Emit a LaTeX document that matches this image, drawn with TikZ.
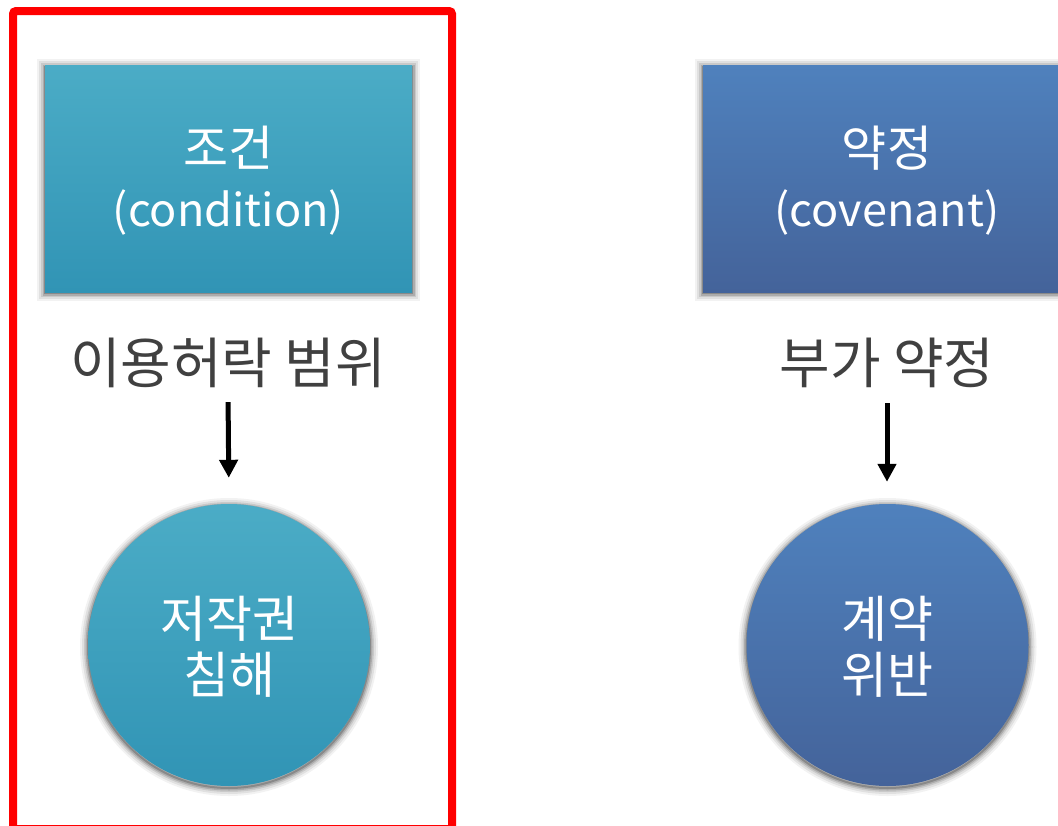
\documentclass[tikz,border=0pt]{standalone}
\usepackage{fontspec}
\newfontfamily\kr{Noto Sans CJK KR}
\usetikzlibrary{arrows.meta}
\newcommand{\bigko}[1]{{\fontsize{49}{60}\selectfont #1}}
\tikzset{
  tealfill/.style={top color=teal1, bottom color=teal2},
  bluefill/.style={top color=blue1, bottom color=blue2},
  boxtext/.style={font=\kr\fontsize{45}{60}\selectfont, text=white, align=center},
  circtext/.style={font=\kr\fontsize{50}{56}\selectfont, text=white, align=center},
  lbl/.style={font=\kr\fontsize{55}{60}\selectfont, text=labelgray, inner sep=0pt, minimum height=60pt},
  arr/.style={line width=5pt, -{Triangle[width=18pt,length=18pt]}},
  frame/.style={draw=red, line width=8pt, rounded corners=3pt}
}
\definecolor{teal1}{HTML}{4BACC6}
\definecolor{teal2}{HTML}{3194B5}
\definecolor{blue1}{HTML}{4F81BD}
\definecolor{blue2}{HTML}{44639A}
\definecolor{labelgray}{HTML}{404040}
\begin{document}
\begin{tikzpicture}[x=1pt,y=-1pt]
\useasboundingbox (0,0) rectangle (1058,825);
\clip (0,0) rectangle (1058,825);
\fill[white] (0,0) rectangle (1058,825);
% glows
\foreach \w/\o in {16/0.05,12/0.07,8/0.1,5/0.14,2/0.2}{
  \draw[black, opacity=\o, line width=\w pt] (45,67) rectangle (412,293);
  \draw[black, opacity=\o, line width=\w pt] (703,67) rectangle (1071,293);
  \draw[black, opacity=\o, line width=\w pt] (229,647) circle (141);
  \draw[black, opacity=\o, line width=\w pt] (887.5,647) circle (141);
}
% boxes
\node[tealfill, minimum width=367pt, minimum height=227pt, inner sep=0pt] (cond) at (228.5,178.5) {};
\node[boxtext] (condt) at (228.5,181) {\bigko{조건}\\(condition)};
\node[bluefill, minimum width=368pt, minimum height=227pt, inner sep=0pt] (cov) at (887,178.5) {};
\node[boxtext] (covt) at (887,181) {\bigko{약정}\\(covenant)};
% labels
\node[lbl] (l1) at (228,363) {이용허락 범위};
\node[lbl] (l2) at (887,363) {부가 약정};
% circles
\node[circle, tealfill, minimum size=282pt, inner sep=0pt] (c1) at (229,645) {};
\node[circtext] (c1t) at (229,647) {저작권\\침해};
\node[circle, bluefill, minimum size=282pt, inner sep=0pt] (c2) at (887.5,645) {};
\node[circtext] (c2t) at (887.5,647) {계약\\위반};
% arrows
\draw[arr, shorten <=9pt, shorten >=26pt] (l1.south) -- (c1.north);
\draw[arr, shorten <=10pt, shorten >=22pt] (l2.south) -- (c2.north -| l2.south);
% red frame
\draw[frame] (13,11) rectangle (452,829);
\end{tikzpicture}
\end{document}
